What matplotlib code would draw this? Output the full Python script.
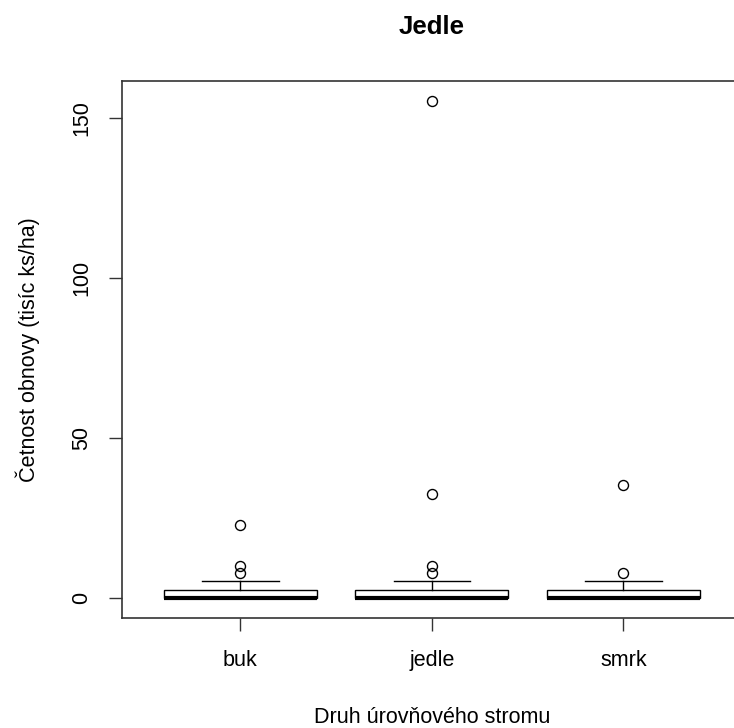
import numpy as np
import matplotlib
matplotlib.use("Agg")
import matplotlib.pyplot as plt

plt.rcParams['font.family'] = ['Liberation Sans', 'DejaVu Sans']

# values (tisíc ks/ha)
species = ['buk', 'jedle', 'smrk']
q1 = [0.0, 0.0, 0.0]
median = [0.0, 0.0, 0.0]
q3 = [2.6, 2.6, 2.6]
whisker_low = [0.0, 0.0, 0.0]
whisker_high = [5.3, 5.3, 5.3]
outliers = [[22.7, 10.0, 7.9], [155.2, 32.6, 10.0, 7.9], [35.2, 7.7]]

stats = []
for i, name in enumerate(species):
    stats.append({'label': name, 'q1': q1[i], 'med': median[i], 'q3': q3[i],
                  'whislo': whisker_low[i], 'whishi': whisker_high[i],
                  'fliers': outliers[i]})

W, H = 734, 728
fig = plt.figure(figsize=(W/100, H/100), dpi=100)
# plot frame runs past the right edge of the picture, as in the reference
left, right, top, bottom = 121.7, 742, 81, 617.7
ax = fig.add_axes([left/W, 1 - bottom/H, (right-left)/W, (bottom-top)/H])

ax.bxp(stats, positions=[1, 2, 3], widths=0.8, patch_artist=True,
       boxprops=dict(facecolor='white', edgecolor='black', linewidth=1),
       medianprops=dict(color='black', linewidth=3),
       whiskerprops=dict(color='black', linewidth=1),
       capprops=dict(color='black', linewidth=1),
       capwidths=0.4,
       flierprops=dict(marker='o', markerfacecolor='none', markeredgecolor='black',
                       markersize=7.2, markeredgewidth=1))

ax.set_xlim(0.38, 3.62)
ax.set_ylim(-6.2, 161.5)
ax.set_yticks([0, 50, 100, 150])
ax.set_yticklabels(['0', '50', '100', '150'], rotation=90, va='center', fontsize=15.5)
ax.set_xticks([1, 2, 3])
ax.set_xticklabels(species, fontsize=15.5)
ax.tick_params(length=9.4, width=1, color='#333333')
ax.tick_params(axis='x', pad=14)
ax.tick_params(axis='y', pad=12)
for s in ax.spines.values():
    s.set_linewidth(1.2)
    s.set_color('#333333')

ax.set_title('Jedle', fontsize=18.6, fontweight='bold', pad=34)
ax.set_ylabel('Četnost obnovy (tisíc ks/ha)', fontsize=15.5, va='center')
ax.set_xlabel('Druh úrovňového stromu', fontsize=15.5, va='baseline')
ax.yaxis.set_label_coords((28 - left) / (right - left), 0.5)
ax.xaxis.set_label_coords(0.5, (bottom - 723) / (bottom - top))

fig.savefig('out.png', dpi=100)
